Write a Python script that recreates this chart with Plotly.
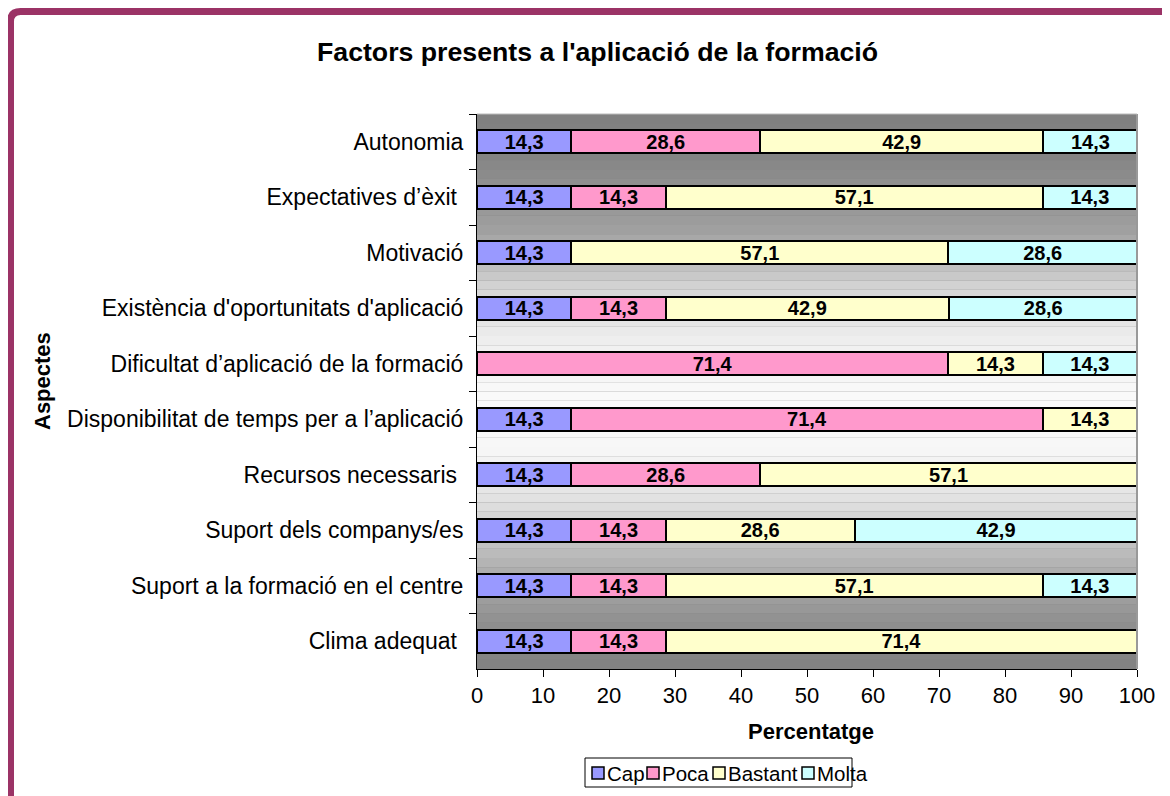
import plotly.graph_objects as go

# Data (top to bottom as shown)
aspectes = [
    "Autonomia",
    "Expectatives d\u2019èxit ",
    "Motivació",
    "Existència d'oportunitats d'aplicació",
    "Dificultat d\u2019aplicació de la formació",
    "Disponibilitat de temps per a l\u2019aplicació",
    "Recursos necessaris ",
    "Suport dels companys/es",
    "Suport a la formació en el centre",
    "Clima adequat ",
]
cap = [14.3, 14.3, 14.3, 14.3, None, 14.3, 14.3, 14.3, 14.3, 14.3]
poca = [28.6, 14.3, None, 14.3, 71.4, 71.4, 28.6, 14.3, 14.3, 14.3]
bastant = [42.9, 57.1, 57.1, 42.9, 14.3, 14.3, 57.1, 28.6, 57.1, 71.4]
molta = [14.3, 14.3, 28.6, 28.6, 14.3, None, None, 42.9, 14.3, None]

series = [
    ("Cap", cap, "#9999FF"),
    ("Poca", poca, "#FF99CC"),
    ("Bastant", bastant, "#FFFFCC"),
    ("Molta", molta, "#CCFFFF"),
]

FONT = "Liberation Sans, Arial"
OFF = 8  # page offset of the plot div (body margin)
W, H = 1162, 788
ML, MR, MT, MB = 469, 33, 106, 127
PW, PH = W - ML - MR, H - MT - MB


def px(x):
    # page pixel x -> paper x
    return (x - OFF - ML) / PW


def py(y):
    # page pixel y -> paper y
    return (H - MB - (y - OFF)) / PH


fig = go.Figure()
for name, vals, color in series:
    fig.add_trace(go.Bar(
        y=aspectes, x=vals, name=name, orientation="h",
        marker=dict(color=color, line=dict(color="black", width=2)),
        width=0.42,
        texttemplate="%{x:.1f}", textposition="inside",
        insidetextanchor="middle", textangle=0, constraintext="none",
        textfont=dict(family=FONT, size=20, color="black", weight="bold"),
        showlegend=False,
    ))

# plot-area background: vertical grey gradient (light in the middle)
stops = [(114, 128), (150, 130), (230, 160), (290, 214), (345, 240), (400, 250),
         (455, 246), (510, 220), (565, 178), (620, 145), (669, 128)]


def grey(y):
    for (y0, g0), (y1, g1) in zip(stops, stops[1:]):
        if y0 <= y <= y1:
            return g0 + (g1 - g0) * (y - y0) / (y1 - y0)
    return 128


shapes = []
n = 60
for i in range(n):
    y0 = 114 + PH * i / n
    y1 = 114 + PH * (i + 1) / n
    g = int(round(grey((y0 + y1) / 2)))
    shapes.append(dict(type="rect", xref="paper", yref="paper", layer="below",
                       x0=0, x1=1, y0=py(y1), y1=py(y0),
                       fillcolor=f"rgb({g},{g},{g})", line=dict(width=0)))
# right / top edge of plot area
shapes.append(dict(type="line", xref="paper", yref="paper", x0=1, x1=1, y0=0, y1=1,
                   line=dict(color="#999999", width=2)))
shapes.append(dict(type="line", xref="paper", yref="paper", x0=0, x1=1, y0=1, y1=1,
                   line=dict(color="#BBBBBB", width=1)))
# maroon rounded frame around the chart
bx, by, r = 10.5, 11.5, 10
shapes.append(dict(
    type="path", xref="paper", yref="paper",
    path=(f"M {px(bx)},{py(H + 40)} L {px(bx)},{py(by + r)} "
          f"Q {px(bx)},{py(by)} {px(bx + r)},{py(by)} L {px(W + 40)},{py(by)}"),
    line=dict(color="#9B3366", width=7),
))

annotations = [
    dict(text="<b>Factors presents a l'aplicació de la formació</b>",
         xref="paper", yref="paper", x=px(597), y=py(52),
         xanchor="center", yanchor="middle", showarrow=False,
         font=dict(size=26.7)),
    dict(text="<b>Aspectes</b>", textangle=-90,
         xref="paper", yref="paper", x=px(42), y=py(381),
         xanchor="center", yanchor="middle", showarrow=False,
         font=dict(size=22)),
    dict(text="<b>Percentatge</b>",
         xref="paper", yref="paper", x=px(811), y=py(731),
         xanchor="center", yanchor="middle", showarrow=False,
         font=dict(size=22)),
]

# legend box drawn by hand (Excel-style compact keys)
shapes.append(dict(type="rect", xref="paper", yref="paper",
                   x0=px(585), x1=px(852), y0=py(787), y1=py(758),
                   fillcolor="white", line=dict(color="black", width=1)))
key_x = [592, 647, 713, 802]
for (name, _, color), kx in zip(series, key_x):
    shapes.append(dict(type="rect", xref="paper", yref="paper",
                       x0=px(kx), x1=px(kx + 12), y0=py(779), y1=py(767),
                       fillcolor=color, line=dict(color="black", width=1.5)))
    annotations.append(dict(text=name, xref="paper", yref="paper",
                            x=px(kx + 13), y=py(773), xanchor="left", yanchor="middle",
                            showarrow=False, font=dict(size=20.5)))

fig.update_layout(
    width=W, height=H,
    margin=dict(l=ML, r=MR, t=MT, b=MB, autoexpand=False),
    barmode="stack",
    separators=", ",
    paper_bgcolor="white",
    plot_bgcolor="#808080",
    font=dict(family=FONT, size=22, color="black"),
    showlegend=False,
    shapes=shapes,
    annotations=annotations,
)
fig.update_xaxes(
    range=[0, 100], dtick=10, showgrid=False, zeroline=False, automargin=False,
    showline=True, linecolor="black", linewidth=1,
    ticks="outside", ticklen=7, tickcolor="black",
)
fig.update_yaxes(
    autorange="reversed", showgrid=False, automargin=False,
    showline=True, linecolor="black", linewidth=1,
    ticks="outside", ticklen=7, tickcolor="black", tickson="boundaries",
    ticklabelstandoff=8, tickfont=dict(size=23),
)

fig.write_html("out.html")
